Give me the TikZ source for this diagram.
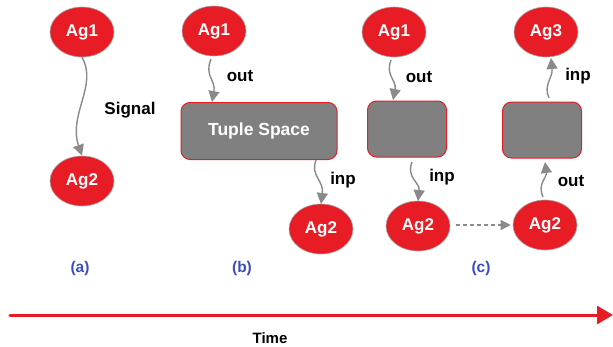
\documentclass[tikz,border=0pt]{standalone}
\usepackage{fontspec}
\setmainfont{Liberation Sans}
\usetikzlibrary{shapes.geometric,arrows.meta}
\definecolor{agred}{HTML}{E81C24}
\definecolor{tsgray}{HTML}{808080}
\definecolor{arrgray}{HTML}{8A8A8A}
\definecolor{lblblue}{HTML}{3B4CC0}
\tikzset{
  agent/.style={ellipse, fill=agred, draw=gray!70, line width=0.6pt, minimum width=64pt, minimum height=50pt, inner sep=0pt, text=white, font=\fontsize{17}{19}\selectfont\bfseries},
  space/.style={rectangle, rounded corners=9pt, fill=tsgray, draw=agred, line width=1pt, inner sep=0pt, text=white, font=\fontsize{17.5}{19}\selectfont\bfseries},
  flow/.style={draw=arrgray, line width=1.4pt, -{Triangle[length=11pt,width=11pt]}},
  lbl/.style={font=\fontsize{17}{19}\selectfont\bfseries, text=black},
  panellbl/.style={font=\fontsize{15.5}{17}\selectfont\bfseries, text=lblblue}
}
\begin{document}
\begin{tikzpicture}[x=1pt,y=-1pt]
\useasboundingbox (0,0) rectangle (613,346);
% (a)
\node[agent] (a1) at (82,32) {Ag1};
\node[agent] (a2) at (82,181) {Ag2};
\draw[flow] (a1.south) .. controls (98,85) and (68,115) .. (a2.north);
\node[lbl] (sig) at (130,110) {Signal};
\node[panellbl] (ca) at (80,268) {(a)};
% (b)
\node[agent] (b1) at (214,31) {Ag1};
\node[space, minimum width=156pt, minimum height=57pt] (bts) at (259,131) {Tuple Space};
\node[agent] (b2) at (321,229) {Ag2};
\coordinate (b1o) at (211,59);
\coordinate (b1i) at (212,102);
\draw[flow] (b1o) .. controls (204,76) and (216,80) .. (b1i);
\node[lbl] (bout) at (240,76) {out};
\coordinate (bto) at (316,160);
\coordinate (b2i) at (321,204);
\draw[flow] (bto) .. controls (310,176) and (324,180) .. (b2i);
\node[lbl] (binp) at (343,180) {inp};
\node[panellbl] (cb) at (242,268) {(b)};
% (c)
\node[agent] (c1) at (394,32) {Ag1};
\node[space, minimum width=79pt, minimum height=56pt] (cs1) at (407,129) {};
\node[agent] (c2) at (418,226) {Ag2};
\node[agent] (c3) at (545,225) {Ag2};
\node[space, minimum width=79pt, minimum height=56pt] (cs2) at (542,130) {};
\node[agent] (c4) at (546,32) {Ag3};
\coordinate (c1o) at (391,60);
\coordinate (cs1i) at (393,100);
\draw[flow] (c1o) .. controls (385,76) and (397,80) .. (cs1i);
\node[lbl] (cout1) at (419,77) {out};
\coordinate (cs1o) at (412,162);
\coordinate (c2i) at (418,201);
\draw[flow] (cs1o) .. controls (406,178) and (420,182) .. (c2i);
\node[lbl] (cinp1) at (442,177) {inp};
\coordinate (dsh0) at (456,225);
\draw[draw=arrgray, line width=1.2pt, dash pattern=on 4pt off 3pt, -{Triangle[length=10pt,width=10pt]}] (dsh0) -- ([xshift=-2pt]c3.west);
\coordinate (c3o) at (543,197);
\coordinate (cs2i) at (545,162);
\draw[flow] (c3o) .. controls (537,184) and (547,178) .. (cs2i);
\node[lbl] (cout2) at (571,181) {out};
\coordinate (cs2o) at (549,98);
\coordinate (c4i) at (551,58);
\draw[flow] (cs2o) .. controls (543,85) and (553,78) .. (c4i);
\node[lbl] (cinp2) at (578,76) {inp};
\node[panellbl] (cc) at (481,268) {(c)};
% time
\coordinate (t0) at (10,315);
\coordinate (t1) at (613,315);
\draw[draw=agred, line width=3pt, line cap=round, -{Triangle[length=16pt,width=18pt]}] (t0) -- (t1);
\node[font=\fontsize{15}{17}\selectfont\bfseries] (time) at (270,338) {Time};
\end{tikzpicture}
\end{document}
